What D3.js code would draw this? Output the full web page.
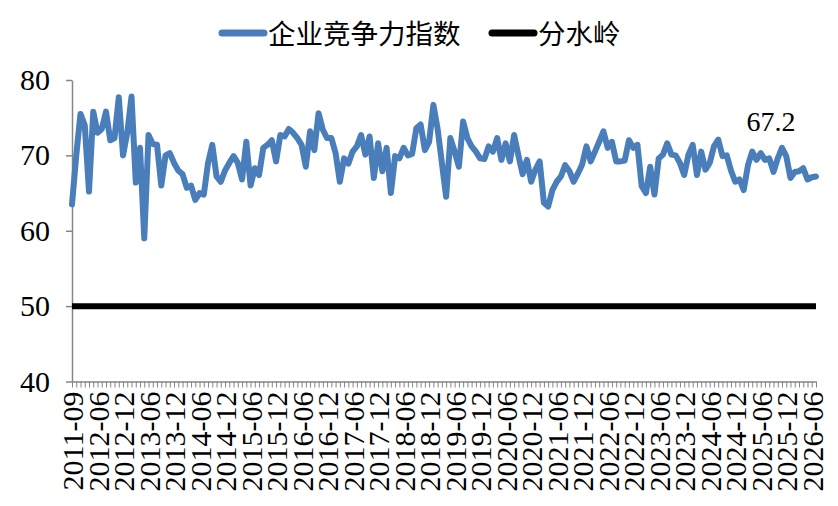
<!DOCTYPE html>
<html><head><meta charset="utf-8">
<script src="https://cdn.jsdelivr.net/npm/d3@7"></script>
<style>body{margin:0;background:#fff}</style>
</head><body>
<svg id="c" width="838" height="506"></svg>
<script>
const seriesName = "企业竞争力指数";
const thresholdName = "分水岭";
const thresholdValue = 50;
const tickLabels = ["2011-09","2012-06","2012-12","2013-06","2013-12","2014-06","2014-12","2015-06","2015-12","2016-06","2016-12","2017-06","2017-12","2018-06","2018-12","2019-06","2019-12","2020-06","2020-12","2021-06","2021-12","2022-06","2022-12","2023-06","2023-12","2024-06","2024-12","2025-06","2025-12","2026-06"];
const values = [63.5,70,75.5,74,65.2,75.8,73,73.5,75.8,72,72.3,77.7,70,73,77.8,66.4,71,59,72.7,71.5,
71.4,66,70,70.3,69,68,67.5,65.7,66,64.1,65,64.8,69,71.4,67.2,66.5,68,69,69.9,69,
66.8,71.8,66,68.3,67.4,71,71.4,72,69.2,72.7,72.5,73.5,73,72.3,71.4,68.5,73.2,70.7,75.6,73.4,
72.3,72.3,70.3,66.5,69.6,68.9,70.5,71.2,72.7,70.1,72.5,67,71.6,67.9,71,65,69.9,69.6,71,70,
70.2,73.6,74.1,70.7,71.8,76.7,73.5,69,64.5,72.3,70.5,68.5,74.5,72.3,71.2,70.5,69.6,69.5,71.2,70.5,
72.3,69.4,71.6,69.2,72.7,70,67.5,69.4,66.5,68.1,69.2,63.7,63.2,65.4,66.5,67.2,68.7,67.9,66.5,67.6,
68.8,71.2,69.2,70.5,71.8,73.2,71,71.8,69.2,69.2,69.3,72,71,71.4,65.9,65,68.5,64.8,69.6,70.1,
71.6,70.1,70,69,67.4,70.1,71.4,67.4,70.5,68.1,69,71.2,72.1,69.9,70,68,66.5,66.8,65.4,68.7,
70.5,69.4,70.3,69.4,69.6,67.8,69.6,71,69.9,67,67.8,67.9,68.3,66.8,67.1,67.2];
const yTicks = [40,50,60,70,80];
const labelEvery = 6;

const svg = d3.select("#c");
const mLeft = 72, mRight = 816, mTop = 80, mBottom = 381.5;
const axisColor = "#868686";
const serif = "'Liberation Serif','Times New Roman',serif";

const x = d3.scaleLinear().domain([0, values.length - 1]).range([mLeft, mRight]);
const y = d3.scaleLinear().domain([40, 80]).range([mBottom, mTop]);

// Y axis
const yAxis = d3.axisLeft(y).tickValues(yTicks).tickSize(6).tickSizeOuter(0).tickPadding(16);
const gy = svg.append("g").attr("transform", `translate(${mLeft},0)`).call(yAxis);
gy.select(".domain").attr("stroke", axisColor).attr("stroke-width", 1.5);
gy.selectAll(".tick line").attr("stroke", axisColor).attr("stroke-width", 1.5);
gy.selectAll(".tick text").attr("font-family", serif).attr("font-size", 30).attr("fill", "#000");

// X axis
const idx = d3.range(values.length);
const xAxis = d3.axisBottom(x).tickValues(idx).tickSize(6).tickSizeOuter(0)
  .tickFormat(i => (i % labelEvery === 0 && tickLabels[i / labelEvery]) ? tickLabels[i / labelEvery] : "");
const gx = svg.append("g").attr("transform", `translate(0,${mBottom})`).call(xAxis);
gx.select(".domain").attr("stroke", axisColor).attr("stroke-width", 1.5);
gx.selectAll(".tick line").attr("stroke", axisColor).attr("stroke-width", 1);
gx.selectAll(".tick text")
  .attr("font-family", serif).attr("font-size", 30).attr("fill", "#000")
  .attr("text-anchor", "end").attr("dy", null)
  .attr("transform", "rotate(-90)").attr("x", -10).attr("y", 0).attr("dominant-baseline", "central");

// Threshold line
svg.append("line")
  .attr("x1", x(0)).attr("x2", x(values.length - 1))
  .attr("y1", y(thresholdValue)).attr("y2", y(thresholdValue))
  .attr("stroke", "#000").attr("stroke-width", 6);

// Series line
const line = d3.line().x((d, i) => x(i)).y(d => y(d));
svg.append("path").datum(values)
  .attr("d", line).attr("fill", "none")
  .attr("stroke", "#4a7ebb").attr("stroke-width", 6)
  .attr("stroke-linejoin", "round").attr("stroke-linecap", "round");

// Data label for last value
const last = values.length - 1;
svg.append("text")
  .attr("x", x(last) - 45).attr("y", y(values[last]) - 45)
  .attr("text-anchor", "middle")
  .attr("font-family", serif).attr("font-size", 28).attr("fill", "#000")
  .text(values[last].toFixed(1));

// Legend
const legend = [
  {name: seriesName, color: "#4a7ebb", x: 222},
  {name: thresholdName, color: "#000", x: 492}
];
const lg = svg.append("g");
legend.forEach(l => {
  lg.append("line").attr("x1", l.x).attr("x2", l.x + 42).attr("y1", 33).attr("y2", 33)
    .attr("stroke", l.color).attr("stroke-width", 7).attr("stroke-linecap", "round");
  lg.append("text").attr("x", l.x + 46).attr("y", 44)
    .attr("font-family", "'Noto Sans CJK SC',sans-serif").attr("font-size", 27.5).attr("fill", "#000")
    .text(l.name);
});
</script>
</body></html>
